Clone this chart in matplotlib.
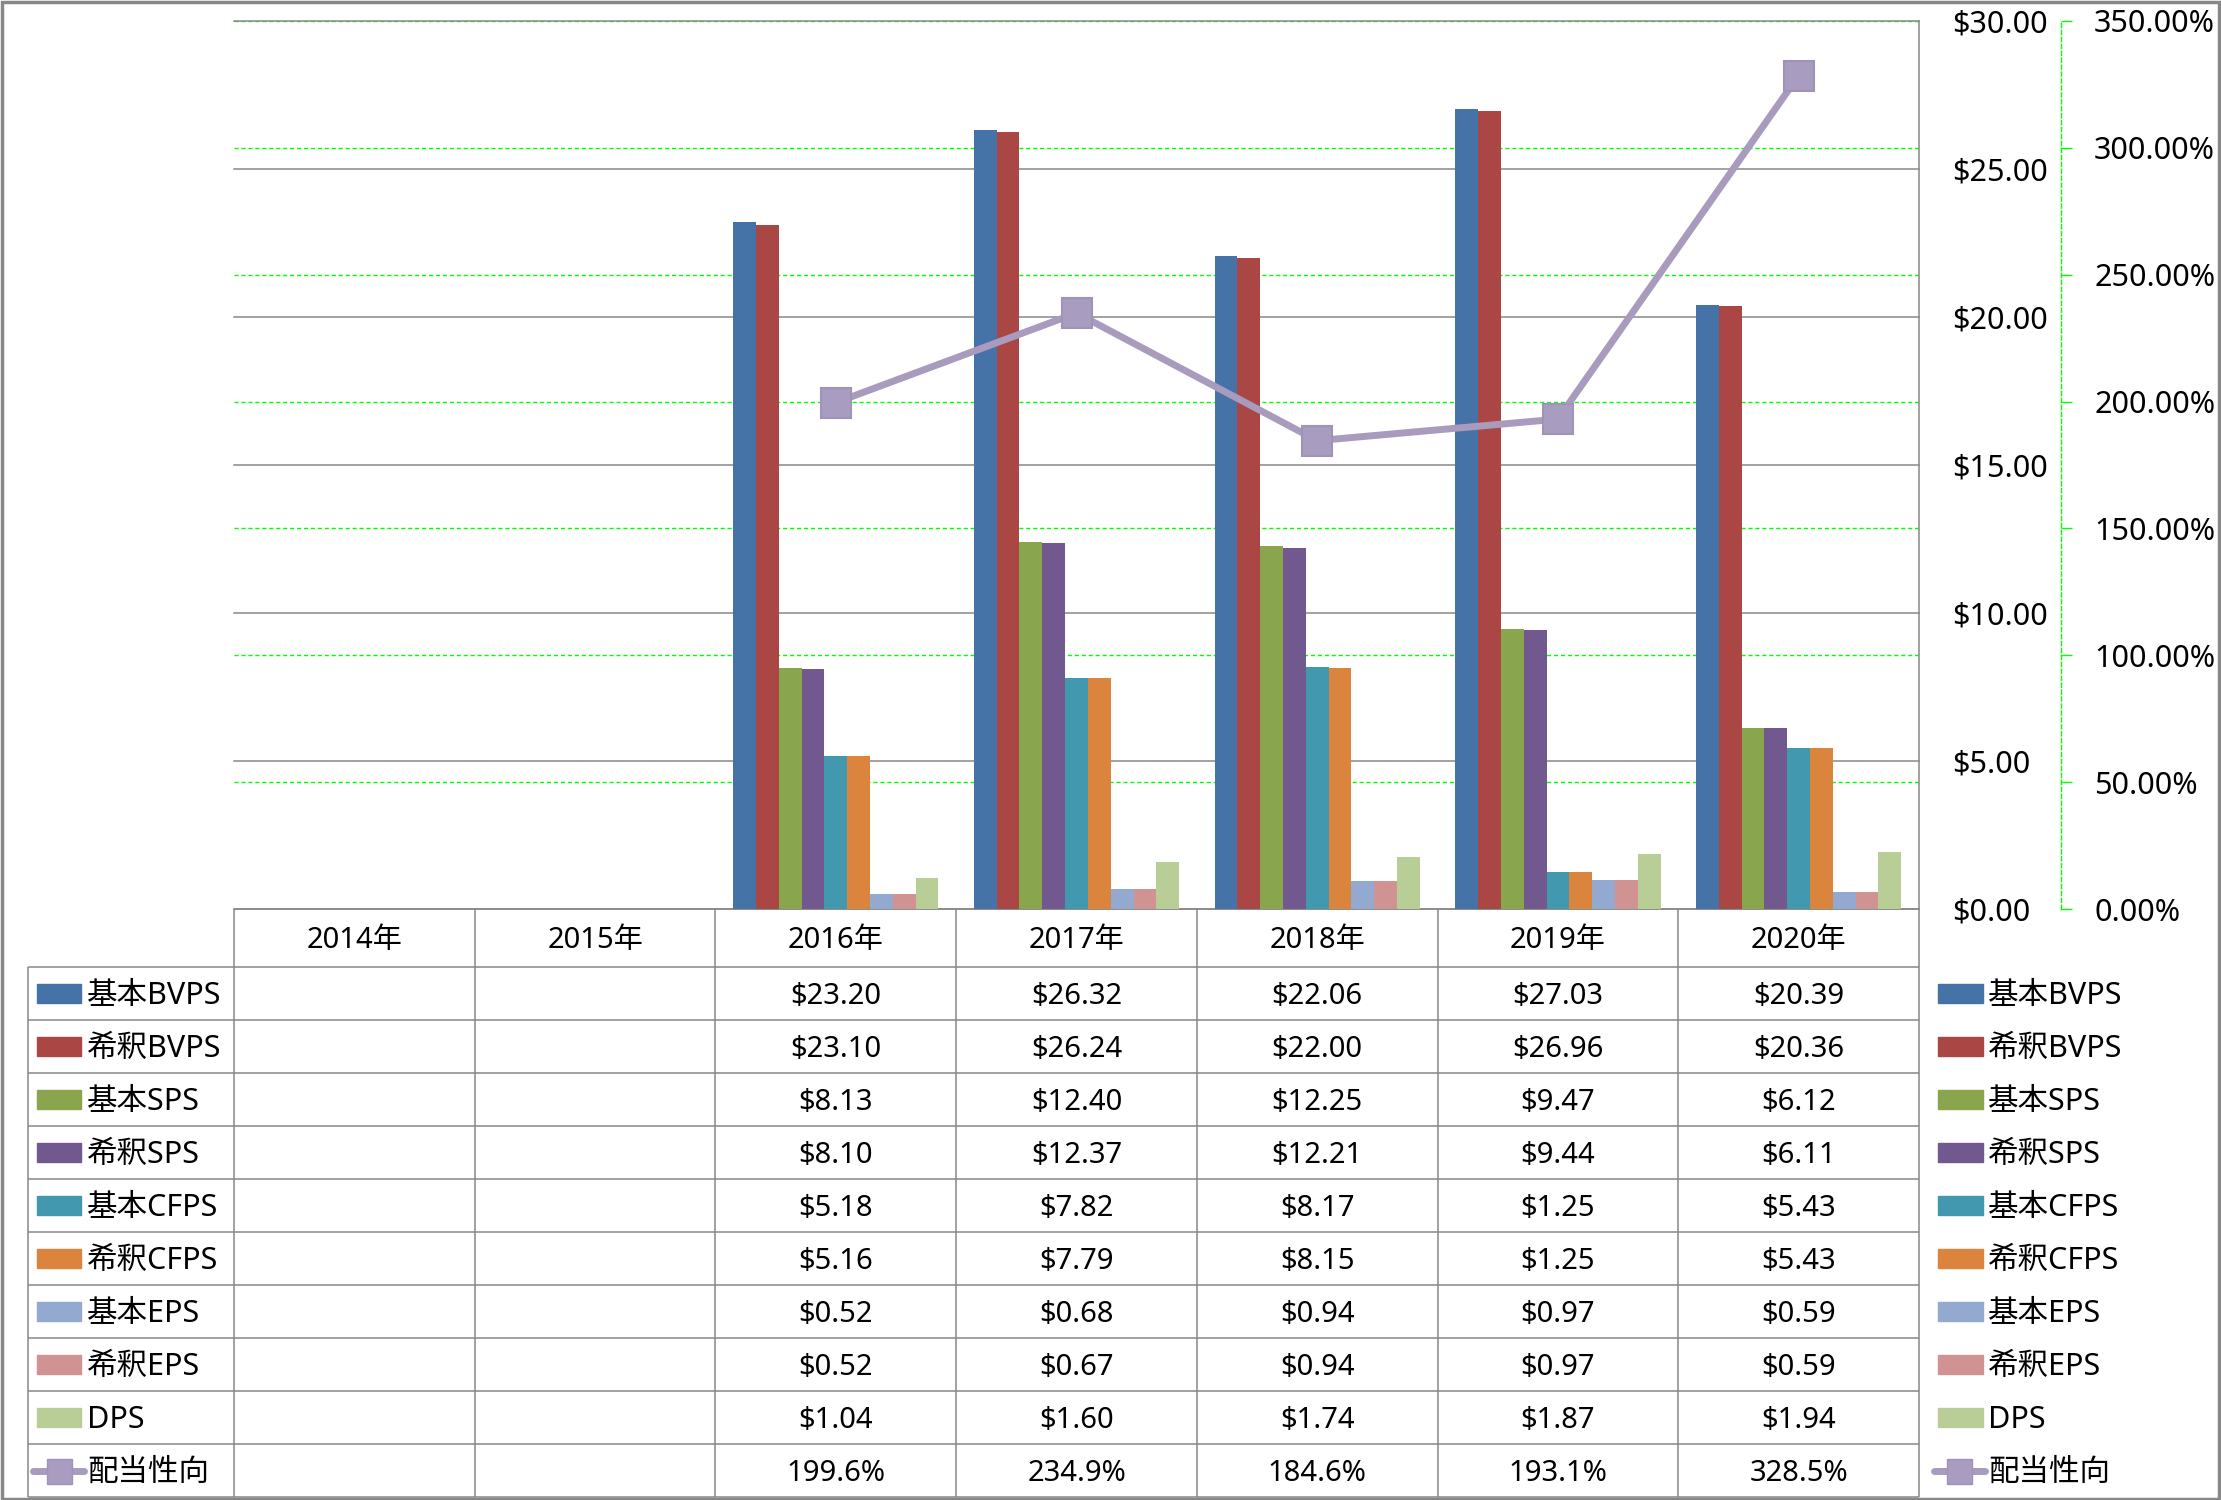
import numpy as np
import matplotlib.pyplot as plt
from matplotlib.patches import Rectangle
from matplotlib.ticker import FuncFormatter, MultipleLocator

plt.rcParams['font.family'] = ['Noto Sans', 'Noto Sans CJK JP', 'DejaVu Sans']
plt.rcParams['font.size'] = 21

nan = np.nan
years = ['2014年', '2015年', '2016年', '2017年', '2018年', '2019年', '2020年']
basic_bvps = [nan, nan, 23.20, 26.32, 22.06, 27.03, 20.39]
dil_bvps = [nan, nan, 23.10, 26.24, 22.00, 26.96, 20.36]
basic_sps = [nan, nan, 8.13, 12.40, 12.25, 9.47, 6.12]
dil_sps = [nan, nan, 8.10, 12.37, 12.21, 9.44, 6.11]
basic_cfps = [nan, nan, 5.18, 7.82, 8.17, 1.25, 5.43]
dil_cfps = [nan, nan, 5.16, 7.79, 8.15, 1.25, 5.43]
basic_eps = [nan, nan, 0.52, 0.68, 0.94, 0.97, 0.59]
dil_eps = [nan, nan, 0.52, 0.67, 0.94, 0.97, 0.59]
dps = [nan, nan, 1.04, 1.60, 1.74, 1.87, 1.94]
payout = [nan, nan, 199.6, 234.9, 184.6, 193.1, 328.5]  # %

bar_names = ['基本BVPS', '希釈BVPS', '基本SPS', '希釈SPS', '基本CFPS', '希釈CFPS', '基本EPS', '希釈EPS', 'DPS']
bar_data = [basic_bvps, dil_bvps, basic_sps, dil_sps, basic_cfps, dil_cfps, basic_eps, dil_eps, dps]
bar_colors = ['#4572A7', '#AA4643', '#89A54E', '#71588F', '#4198AF', '#DB843D', '#93A9CF', '#D19392', '#B9CD96']
line_name = '配当性向'
line_color = '#A99BBD'

GRAY = '#888888'
GREEN = '#00FF00'
W, H = 2221, 1500
fig = plt.figure(figsize=(W / 100, H / 100), dpi=100)

rect = [234 / W, 1 - 909 / H, (1919 - 234) / W, (909 - 21) / H]
x = np.arange(len(years))

# green secondary gridlines, behind everything
ax_bg = fig.add_axes(rect, zorder=0)
ax_bg.set_xlim(-0.5, len(years) - 0.5)
ax_bg.set_ylim(0, 350)
ax_bg.yaxis.set_major_locator(MultipleLocator(50))
ax_bg.grid(axis='y', color=GREEN, lw=1, dashes=(3, 2))
ax_bg.tick_params(left=False, bottom=False, labelleft=False, labelbottom=False)
for s in ax_bg.spines.values():
    s.set_visible(False)

# bars on primary axis (right side)
ax = fig.add_axes(rect, zorder=1)
ax.patch.set_visible(False)
n = len(bar_data)
w = 0.853 / n
for j, (vals, c) in enumerate(zip(bar_data, bar_colors)):
    ax.bar(x + (j - (n - 1) / 2) * w, vals, w, color=c, zorder=2)
ax.set_xlim(-0.5, len(years) - 0.5)
ax.set_ylim(0, 30)
ax.grid(axis='y', color=GRAY, lw=1.1)
ax.set_axisbelow(True)

# payout ratio line on secondary axis
ax2 = ax.twinx()
ax2.set_zorder(2)
ax2.plot(x, payout, '-s', color=line_color, lw=5, ms=21, mfc='#A89CC0', mec='#A193B8', mew=1.5)
ax2.set_ylim(0, 350)
ax2.yaxis.set_major_locator(MultipleLocator(50))
ax2.yaxis.set_major_formatter(FuncFormatter(lambda v, p: '%.2f%%' % v))
for k in ['left', 'top', 'bottom']:
    ax2.spines[k].set_visible(False)
ax2.spines['right'].set_position(('outward', 102))
ax2.spines['right'].set_color(GREEN)
ax2.spines['right'].set_linestyle((0, (3, 2)))
ax2.spines['right'].set_linewidth(1)
ax2.tick_params(axis='y', color=GREEN, length=8, width=1, pad=16, labelsize=22)

ax.yaxis.tick_right()
ax.yaxis.set_label_position('right')
ax.yaxis.set_major_locator(MultipleLocator(5))
ax.yaxis.set_major_formatter(FuncFormatter(lambda v, p: '$%.2f' % v))
ax.tick_params(axis='y', length=0, pad=24, labelsize=22)
ax.tick_params(axis='x', bottom=False, labelbottom=False)
for k in ['left', 'top', 'bottom']:
    ax.spines[k].set_visible(False)
ax.spines['right'].set_color(GRAY)
ax.spines['right'].set_linewidth(1.1)
for gl in ax.get_ygridlines():
    gl.set_clip_on(False)

# data table
tax = fig.add_axes([28 / W, 3 / H, (1919 - 28) / W, (1497 - 909) / H])
xl = -0.5 - 206 / 240.7
hdr = -58 / 53
nrow = n + 1
tax.set_xlim(xl, len(years) - 0.5)
tax.set_ylim(nrow, hdr)
tax.axis('off')
lk = dict(color=GRAY, lw=1.1, clip_on=False)
tax.hlines(hdr, -0.5, len(years) - 0.5, **lk)
tax.hlines(np.arange(nrow + 1), xl, len(years) - 0.5, **lk)
tax.vlines(np.arange(len(years) + 1) - 0.5, hdr, nrow, **lk)
tax.vlines(xl, 0, nrow, **lk)
for i, yr in enumerate(years):
    tax.text(i, hdr / 2 + 0.05, yr, ha='center', va='center', fontsize=21)

row_vals = bar_data + [payout]
row_names = bar_names + [line_name]
right0 = len(years) - 0.5
for r, (name, vals) in enumerate(zip(row_names, row_vals)):
    yc = r + 0.55
    for i, v in enumerate(vals):
        if not np.isnan(v):
            s = ('%.1f%%' % v) if r == n else ('$%.2f' % v)
            tax.text(i, yc, s, ha='center', va='center', fontsize=21)
    tax.text(xl + 0.245, yc, name, ha='left', va='center', fontsize=22)
    tax.text(right0 + 0.287, yc, name, ha='left', va='center', fontsize=22, clip_on=False)
    yk = r + 0.5
    if r < n:
        for x0 in (xl + 0.037, right0 + 0.079):
            tax.add_patch(Rectangle((x0, yk - 0.18), 0.185, 0.36, color=bar_colors[r], clip_on=False))
    else:
        for x0 in (xl + 0.021, right0 + 0.062):
            tax.plot([x0, x0 + 0.212], [yk, yk], color=line_color, lw=5, solid_capstyle='round', clip_on=False)
            tax.plot([x0 + 0.106], [yk], 's', color='#A89CC0', mec='#A193B8', ms=18, clip_on=False)

# outer frame
fig.patches.append(Rectangle((0.001, 0.001), 0.998, 0.998, transform=fig.transFigure,
                             fill=False, ec=GRAY, lw=2.5))

fig.savefig('out.png', dpi=100)
